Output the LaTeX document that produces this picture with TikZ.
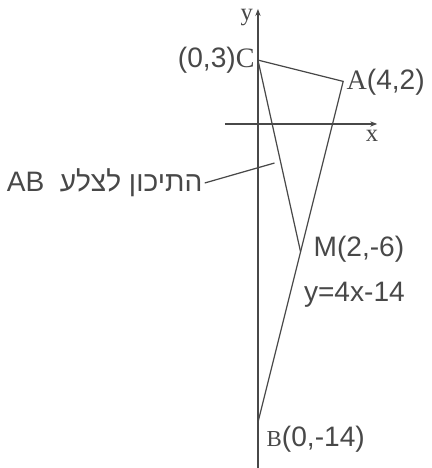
\documentclass[tikz,border=0pt]{standalone}
\usepackage{fontspec}
\setmainfont{Liberation Sans}
\newfontfamily\hebfont[Script=Hebrew]{Liberation Sans}
\newfontfamily\vtxfont{Liberation Serif}
\TeXXeTstate=1
\usetikzlibrary{arrows.meta,calc}
\definecolor{ink}{RGB}{72,72,72}

\begin{document}
\begin{tikzpicture}[x=0.426cm,y=0.426cm,line width=0.7pt,
  lbl/.style={font=\fontsize{16}{18}\selectfont,text=ink,inner sep=1pt},
  axlbl/.style={font=\vtxfont\fontsize{14}{16}\selectfont,text=ink,inner sep=0pt}]
\useasboundingbox (-12.11,-16.15) rectangle (8.17,5.82);
\coordinate[] (O) at (0,0);
\coordinate[] (C) at (0,3);
\coordinate[] (A) at (4,2);
\coordinate[] (M) at (2,-6);
\coordinate[] (B) at (0,-14);
\coordinate[] (xs) at (-1.55,0);
\coordinate[] (xe) at (5.6,0);
\coordinate[] (ys) at (0,-16.15);
\coordinate[] (ye) at (0,5.4);
\coordinate[] (tip) at ($(C)!0.537!(M)+(-0.3,0)$);
% axes
\draw [draw=ink,-{Stealth[length=4pt,width=3pt]}] (xs) -- (xe);
\draw [draw=ink,-{Stealth[length=4pt,width=3pt]}] (ys) -- (ye);
\node[axlbl] (ylab) at (-0.52,5.0) {y};
\node[axlbl] (xlab) at (5.35,-0.55) {x};
% triangle and median
\draw [draw=ink] (C) -- (A) -- (B);
\draw [draw=ink] (C) -- (M);
% labels
\node[lbl,anchor=east] (Clab) at ($(C)+(-0.05,0)$) {(0,3){\vtxfont C}};
\node[lbl,anchor=west] (Alab) at ($(A)+(0.05,-0.05)$) {{\vtxfont A}(4,2)};
\node[lbl,anchor=west] (Mlab) at ($(M)+(0.5,0.1)$) {M(2,-6)};
\node[lbl,anchor=west] (eqlab) at (2.05,-8.0) {y=4x-14};
\node[lbl,anchor=west] (Blab) at (0.3,-14.8) {{\vtxfont\fontsize{13}{15}\selectfont B}(0,-14)};
\node[lbl,anchor=east] (med) at (-2.5,-2.77) {\hebfont\beginR התיכון לצלע\ \ \beginL AB\endL\endR};
\draw [draw=ink] (med.east) -- (tip);
\end{tikzpicture}
\end{document}
